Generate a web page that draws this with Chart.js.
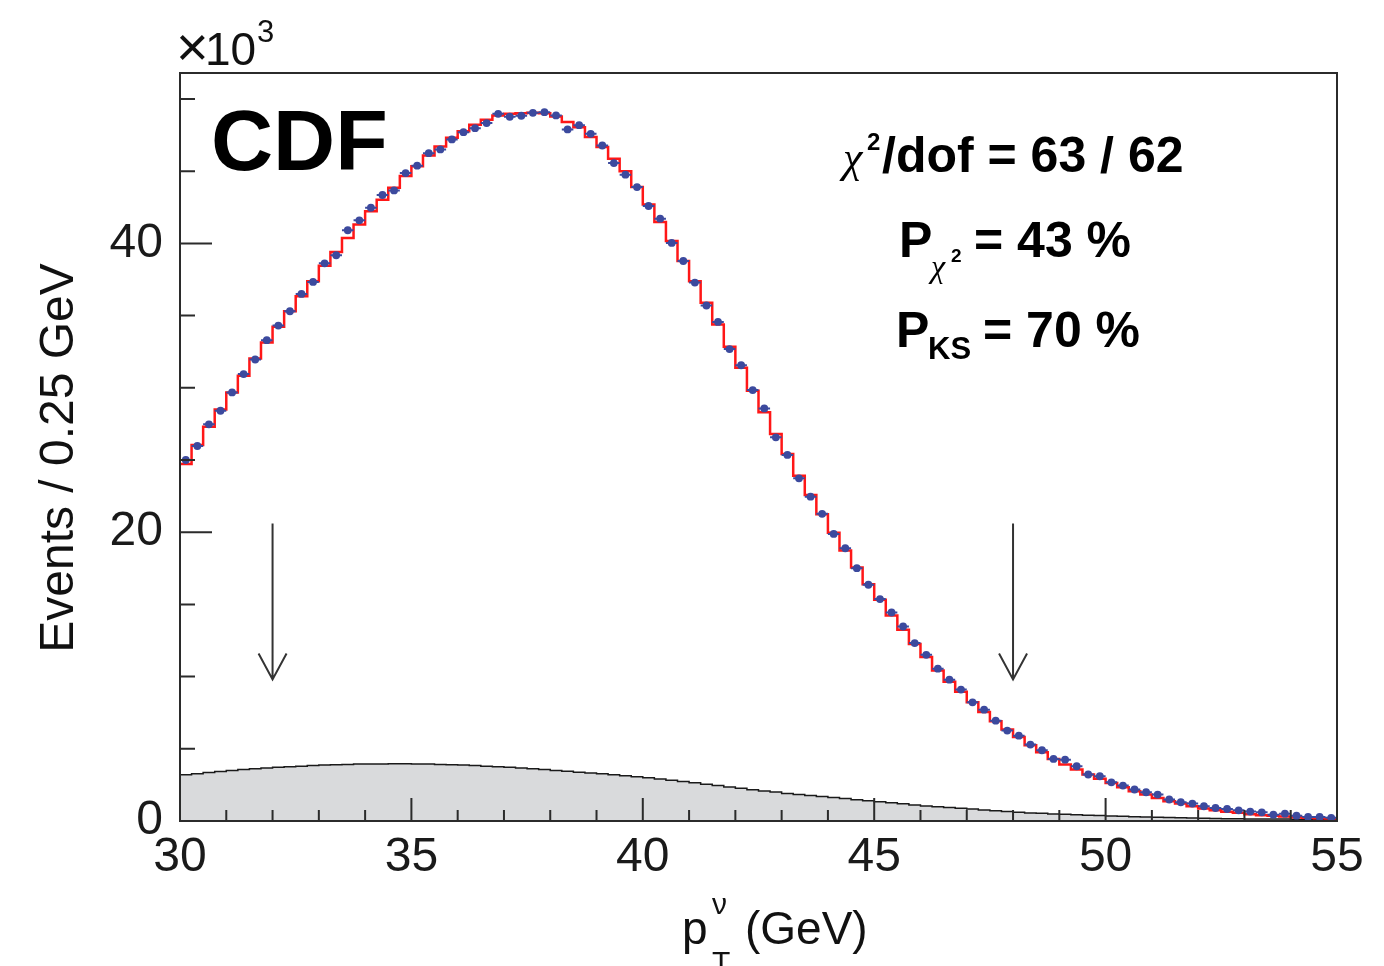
<!DOCTYPE html>
<html>
<head>
<meta charset="utf-8">
<script src="https://cdn.jsdelivr.net/npm/chart.js@4.4.1/dist/chart.umd.min.js"></script>
<style>
  html, body { margin: 0; padding: 0; background: #fff; }
  #wrap { width: 1384px; height: 966px; position: relative; }
</style>
</head>
<body>
<div id="wrap"><canvas id="c"></canvas></div>
<script>
// neutrino pT, 0.25 GeV bins from 30 to 55 GeV, values in 10^3 events
const xMin = 30, xMax = 55, binWidth = 0.25;
const yMax = 51.8;

const dataCounts = [
  25.00, 25.97, 27.47, 28.41, 29.68, 30.95, 31.96, 33.30, 34.31, 35.30,
  36.50, 37.33, 38.62, 39.18, 40.91, 41.60, 42.47, 43.35, 43.67, 44.87,
  45.38, 46.25, 46.51, 47.20, 47.70, 47.98, 48.33, 48.97, 48.77, 48.84,
  49.04, 49.09, 48.86, 47.89, 48.19, 47.59, 46.78, 45.56, 44.76, 43.90,
  42.59, 41.71, 40.03, 38.78, 37.29, 35.70, 34.56, 32.68, 31.56, 29.84,
  28.57, 26.57, 25.35, 23.73, 22.46, 21.27, 19.88, 18.89, 17.51, 16.36,
  15.37, 14.44, 13.47, 12.32, 11.51, 10.55, 9.79, 9.10, 8.22, 7.71,
  6.95, 6.26, 5.91, 5.29, 4.90, 4.30, 4.25, 3.79, 3.22, 3.10,
  2.68, 2.45, 2.18, 1.99, 1.83, 1.49, 1.30, 1.21, 1.02, 0.90,
  0.83, 0.74, 0.65, 0.60, 0.44, 0.51, 0.37, 0.28, 0.28, 0.22
];

const fitModel = [
  24.72, 26.04, 27.30, 28.50, 29.68, 30.83, 32.03, 33.14, 34.22, 35.30,
  36.34, 37.38, 38.46, 39.41, 40.37, 41.30, 42.22, 43.03, 43.86, 44.66,
  45.35, 46.09, 46.71, 47.32, 47.77, 48.22, 48.56, 48.86, 48.97, 49.02,
  49.04, 49.02, 48.79, 48.40, 48.05, 47.36, 46.67, 45.86, 44.99, 43.90,
  42.70, 41.48, 40.17, 38.78, 37.38, 35.89, 34.39, 32.84, 31.38, 29.79,
  28.30, 26.80, 25.41, 23.91, 22.58, 21.24, 19.97, 18.73, 17.55, 16.40,
  15.32, 14.23, 13.24, 12.25, 11.36, 10.43, 9.65, 8.95, 8.22, 7.55,
  6.90, 6.33, 5.82, 5.24, 4.76, 4.30, 3.91, 3.56, 3.22, 2.92,
  2.64, 2.34, 2.06, 1.83, 1.60, 1.37, 1.21, 1.02, 0.86, 0.75,
  0.64, 0.57, 0.47, 0.40, 0.36, 0.31, 0.26, 0.22, 0.19, 0.17
];

const background = [
  3.20, 3.28, 3.36, 3.43, 3.50, 3.56, 3.62, 3.67, 3.72, 3.76,
  3.80, 3.84, 3.88, 3.90, 3.92, 3.94, 3.95, 3.95, 3.96, 3.96,
  3.95, 3.94, 3.92, 3.90, 3.88, 3.84, 3.80, 3.76, 3.72, 3.67,
  3.61, 3.56, 3.50, 3.44, 3.38, 3.33, 3.27, 3.20, 3.13, 3.07,
  3.00, 2.91, 2.82, 2.74, 2.65, 2.55, 2.45, 2.36, 2.26, 2.17,
  2.08, 2.00, 1.91, 1.84, 1.76, 1.69, 1.62, 1.55, 1.48, 1.41,
  1.34, 1.26, 1.19, 1.11, 1.04, 0.99, 0.93, 0.88, 0.83, 0.77,
  0.71, 0.66, 0.60, 0.56, 0.53, 0.49, 0.46, 0.43, 0.40, 0.38,
  0.35, 0.33, 0.30, 0.28, 0.26, 0.24, 0.22, 0.21, 0.19, 0.18,
  0.16, 0.15, 0.14, 0.14, 0.13, 0.13, 0.12, 0.11, 0.11, 0.10
];

// fit window markers
const fitRangeArrows = [32, 48];
const arrowTop = 20.6, arrowTip = 9.8;

const xMajorEvery = 5, yMajorEvery = 20;

const FONT = "'Liberation Sans', Arial, Helvetica, sans-serif";
const SERIF_IT = "'Liberation Serif', 'Times New Roman', serif";
const dotColor = '#3c4a9e';

// histogram -> points on the lower bin edges, closed at the upper end
function stepPoints(vals) {
  const pts = vals.map((v, i) => ({ x: xMin + i * binWidth, y: v }));
  pts.push({ x: xMin + vals.length * binWidth, y: vals[vals.length - 1] });
  return pts;
}
const dataPoints = dataCounts.map((v, i) => ({ x: xMin + (i + 0.5) * binWidth, y: v }));

const decorations = {
  id: 'decorations',
  afterDatasetsDraw(chart) {
    const { ctx, chartArea: a, scales: { x, y } } = chart;
    ctx.save();

    // x error bars on the data points
    ctx.beginPath();
    ctx.rect(a.left, a.top, a.right - a.left, a.bottom - a.top);
    ctx.clip();
    ctx.strokeStyle = dotColor;
    ctx.lineWidth = 2;
    ctx.beginPath();
    dataPoints.forEach(p => {
      const py = y.getPixelForValue(p.y);
      ctx.moveTo(x.getPixelForValue(p.x - binWidth / 2), py);
      ctx.lineTo(x.getPixelForValue(p.x + binWidth / 2), py);
    });
    ctx.stroke();
    ctx.restore();

    ctx.save();
    ctx.strokeStyle = '#2b2b2b';
    ctx.lineWidth = 2;
    // frame
    ctx.strokeRect(a.left, a.top, a.right - a.left, a.bottom - a.top);

    // ROOT style ticks, pointing inwards
    ctx.beginPath();
    x.ticks.forEach(t => {
      const px = x.getPixelForValue(t.value);
      const len = t.value % xMajorEvery === 0 ? 23 : 11;
      ctx.moveTo(px, a.bottom);
      ctx.lineTo(px, a.bottom - len);
    });
    y.ticks.forEach(t => {
      const py = y.getPixelForValue(t.value);
      const len = t.value % yMajorEvery === 0 ? 32 : 15;
      ctx.moveTo(a.left, py);
      ctx.lineTo(a.left + len, py);
    });
    ctx.stroke();

    // arrows marking the fit range
    ctx.lineWidth = 2;
    ctx.strokeStyle = '#333';
    fitRangeArrows.forEach(v => {
      const px = x.getPixelForValue(v);
      const top = y.getPixelForValue(arrowTop);
      const tip = y.getPixelForValue(arrowTip);
      ctx.beginPath();
      ctx.moveTo(px, top);
      ctx.lineTo(px, tip);
      ctx.moveTo(px - 14, tip - 26);
      ctx.lineTo(px, tip);
      ctx.lineTo(px + 14, tip - 26);
      ctx.stroke();
    });
    ctx.restore();
  },
  afterDraw(chart) {
    const { ctx } = chart;
    ctx.save();
    ctx.fillStyle = '#111';
    ctx.textBaseline = 'alphabetic';
    ctx.textAlign = 'left';

    // exponent label
    ctx.font = `56px ${FONT}`;
    ctx.fillText('\u00d7', 176, 66);
    ctx.font = `46px ${FONT}`;
    ctx.fillText('10', 205, 65);
    ctx.font = `31px ${FONT}`;
    ctx.fillText('3', 257, 42);

    // axis titles
    ctx.font = `48px ${FONT}`;
    ctx.save();
    ctx.translate(73, 458);
    ctx.rotate(-Math.PI / 2);
    ctx.textAlign = 'center';
    ctx.fillText('Events / 0.25 GeV', 0, 0);
    ctx.restore();

    ctx.font = `46px ${FONT}`;
    ctx.fillText('p', 682, 944);
    ctx.font = `30px ${FONT}`;
    ctx.fillText('\u03bd', 712, 914);
    ctx.fillText('T', 712, 972);
    ctx.font = `46px ${FONT}`;
    ctx.fillText('(GeV)', 745, 944);

    // experiment tag
    ctx.fillStyle = '#000';
    ctx.font = `bold 86px ${FONT}`;
    ctx.fillText('CDF', 211, 170);

    // fit quality
    ctx.font = `italic 44px ${SERIF_IT}`;
    ctx.fillText('\u03c7', 843, 172);
    ctx.font = `bold 24px ${FONT}`;
    ctx.fillText('2', 867, 150);
    ctx.font = `bold 50px ${FONT}`;
    ctx.fillText('/dof = 63 / 62', 882, 172);

    ctx.fillText('P', 899, 257);
    ctx.font = `italic 32px ${SERIF_IT}`;
    ctx.fillText('\u03c7', 931, 277);
    ctx.font = `bold 19px ${FONT}`;
    ctx.fillText('2', 951, 262);
    ctx.font = `bold 50px ${FONT}`;
    ctx.fillText('= 43 %', 974, 257);

    ctx.fillText('P', 896, 347);
    ctx.font = `bold 31px ${FONT}`;
    ctx.fillText('KS', 928, 359);
    ctx.font = `bold 50px ${FONT}`;
    ctx.fillText('= 70 %', 983, 347);

    ctx.restore();
  }
};

new Chart(document.getElementById('c'), {
  type: 'line',
  data: {
    datasets: [
      {
        label: 'Data',
        type: 'scatter',
        data: dataPoints,
        pointRadius: 3.9,
        pointBackgroundColor: dotColor,
        pointBorderWidth: 0,
        showLine: false,
        order: 0
      },
      {
        label: 'Fit',
        data: stepPoints(fitModel),
        stepped: true,
        borderColor: '#ff1717',
        borderWidth: 2.5,
        pointRadius: 0,
        fill: false,
        order: 1
      },
      {
        label: 'Background',
        data: stepPoints(background),
        stepped: true,
        borderColor: '#1a1a1a',
        borderWidth: 1.5,
        backgroundColor: '#d9dadc',
        pointRadius: 0,
        fill: 'origin',
        order: 2
      }
    ]
  },
  options: {
    responsive: true,
    maintainAspectRatio: false,
    animation: false,
    layout: { padding: { top: 73, right: 47, bottom: 0, left: 0 } },
    plugins: {
      legend: { display: false },
      tooltip: { enabled: false }
    },
    scales: {
      x: {
        type: 'linear',
        min: xMin,
        max: xMax,
        border: { display: false },
        grid: { display: false, drawTicks: false },
        ticks: {
          stepSize: 1,
          autoSkip: false,
          maxRotation: 0,
          includeBounds: false,
          padding: 8,
          color: '#1a1a1a',
          font: { family: FONT, size: 48 },
          callback: v => (v % xMajorEvery === 0 ? String(v) : '')
        },
        afterFit: s => { s.height = 145; }
      },
      y: {
        type: 'linear',
        min: 0,
        max: yMax,
        border: { display: false },
        grid: { display: false, drawTicks: false },
        ticks: {
          stepSize: 5,
          autoSkip: false,
          includeBounds: false,
          padding: 17,
          color: '#1a1a1a',
          font: { family: FONT, size: 48 },
          callback: v => (v % yMajorEvery === 0 ? String(v) : '')
        },
        afterFit: s => { s.width = 180; }
      }
    }
  },
  plugins: [decorations]
});
</script>
</body>
</html>
